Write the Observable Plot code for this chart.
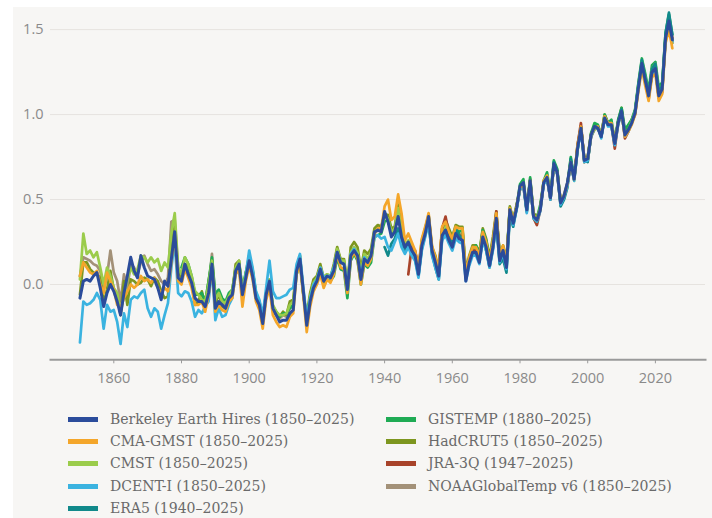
<!DOCTYPE html>
<html><head><meta charset="utf-8">
<script src="https://cdn.jsdelivr.net/npm/d3@7"></script>
<script src="https://cdn.jsdelivr.net/npm/@observablehq/plot@0.6"></script>
<style>
html,body{margin:0;padding:0;background:#ffffff;}
body{width:712px;height:518px;overflow:hidden;position:relative;}
#panel{position:absolute;left:13px;top:7px;width:699px;height:511px;background:#f7f6f4;}
#chart{position:absolute;left:0;top:0;}
#chart svg{overflow:visible;}
.item{position:absolute;height:20px;display:flex;align-items:center;font-family:"DejaVu Serif Condensed","DejaVu Serif",serif;font-size:15.6px;color:#6a6a6a;white-space:nowrap;}
.sw{display:inline-block;width:30px;height:5px;margin-right:12px;}
</style></head>
<body>
<div id="panel"><div id="chart"></div></div>
<script>
// ---- series (annual anomalies, °C) ----
const names = ["Berkeley Earth Hires (1850–2025)","CMA-GMST (1850–2025)","CMST (1850–2025)","DCENT-I (1850–2025)","ERA5 (1940–2025)","GISTEMP (1880–2025)","HadCRUT5 (1850–2025)","JRA-3Q (1947–2025)","NOAAGlobalTemp v6 (1850–2025)"];
const colors = ["#2b4c9b","#f4a62a","#9bcc4b","#3bb3e0","#11898a","#1fab54","#7d961f","#a8432a","#a39178"];
const startYears = [1850,1850,1850,1850,1940,1880,1850,1947,1850];
const xTicks = [1860,1880,1900,1920,1940,1960,1980,2000,2020];
const yTicks = [0,0.5,1.0,1.5];

const berkeley = [
-0.08,0.02,0.03,0.02,0.05,0.07,-0.02,-0.13,-0.05,0.00,
-0.04,-0.10,-0.18,-0.05,0.05,0.16,0.08,0.04,0.17,0.10,
0.05,0.04,0.03,-0.02,-0.09,0.02,-0.01,0.15,0.31,0.04,
0.02,0.12,0.06,0.01,-0.08,-0.10,-0.10,-0.13,-0.05,0.12,
-0.14,-0.10,-0.12,-0.14,-0.08,-0.06,0.08,0.12,-0.06,0.04,
0.14,0.05,-0.08,-0.12,-0.23,-0.06,0.02,-0.14,-0.18,-0.22,
-0.21,-0.21,-0.17,-0.15,0.08,0.15,-0.04,-0.24,-0.10,-0.02,
0.02,0.09,0.02,0.05,0.04,0.08,0.19,0.13,0.12,-0.03,
0.17,0.20,0.17,0.03,0.15,0.13,0.17,0.31,0.32,0.31,
0.43,0.37,0.28,0.31,0.40,0.28,0.22,0.25,0.20,0.17,
0.06,0.23,0.30,0.40,0.20,0.13,0.05,0.29,0.32,0.26,
0.22,0.30,0.27,0.26,0.02,0.13,0.19,0.19,0.13,0.28,
0.22,0.11,0.22,0.39,0.14,0.20,0.10,0.44,0.36,0.45,
0.58,0.60,0.44,0.61,0.40,0.38,0.44,0.60,0.63,0.51,
0.71,0.66,0.48,0.52,0.60,0.72,0.62,0.80,0.92,0.73,
0.74,0.88,0.93,0.92,0.87,0.98,0.94,0.94,0.83,0.95,
1.02,0.88,0.91,0.95,1.01,1.16,1.30,1.20,1.11,1.25,
1.27,1.11,1.15,1.45,1.55,1.44];

const cmaGmst = [
0.05,0.13,0.10,0.07,0.06,0.08,0.00,-0.05,0.07,0.02,
-0.03,-0.12,-0.14,-0.08,-0.04,0.00,-0.02,0.00,0.05,0.02,
0.03,0.01,0.04,-0.02,-0.05,-0.02,-0.04,0.13,0.30,0.02,
0.00,0.09,0.04,-0.02,-0.12,-0.12,-0.10,-0.16,-0.06,0.10,
-0.16,-0.12,-0.15,-0.16,-0.10,-0.08,0.06,0.09,-0.13,0.02,
0.11,0.03,-0.10,-0.15,-0.26,-0.09,-0.02,-0.18,-0.22,-0.25,
-0.24,-0.25,-0.19,-0.17,0.06,0.12,-0.07,-0.28,-0.13,-0.04,
0.00,0.06,-0.02,0.03,0.01,0.06,0.18,0.10,0.09,-0.05,
0.15,0.19,0.15,0.00,0.13,0.11,0.15,0.30,0.33,0.33,
0.46,0.50,0.38,0.40,0.53,0.42,0.26,0.30,0.25,0.20,
0.10,0.27,0.34,0.42,0.23,0.16,0.09,0.34,0.37,0.31,
0.27,0.34,0.33,0.33,0.07,0.16,0.22,0.22,0.17,0.31,
0.25,0.14,0.26,0.42,0.17,0.23,0.13,0.45,0.38,0.46,
0.57,0.59,0.46,0.61,0.41,0.38,0.44,0.61,0.64,0.51,
0.70,0.66,0.49,0.52,0.59,0.72,0.62,0.82,0.93,0.74,
0.74,0.88,0.92,0.93,0.88,0.99,0.95,0.95,0.84,0.95,
1.01,0.87,0.90,0.94,1.00,1.14,1.27,1.17,1.08,1.22,
1.24,1.08,1.12,1.42,1.50,1.39];

const cmst = [
0.03,0.30,0.18,0.20,0.16,0.19,0.10,0.00,0.10,0.05,
-0.02,-0.05,-0.17,-0.06,0.03,0.10,0.06,0.09,0.17,0.16,
0.13,0.16,0.13,0.15,0.08,0.13,0.10,0.30,0.42,0.10,
0.06,0.16,0.12,0.05,-0.04,-0.06,-0.09,-0.10,0.00,0.14,
-0.09,-0.05,-0.10,-0.11,-0.07,-0.03,0.10,0.14,-0.03,0.06,
0.15,0.08,-0.05,-0.11,-0.20,-0.05,0.03,-0.12,-0.16,-0.18,
-0.18,-0.17,-0.12,-0.10,0.10,0.16,-0.04,-0.21,-0.07,0.01,
0.04,0.10,0.04,0.06,0.05,0.10,0.21,0.14,0.14,0.00,
0.19,0.22,0.19,0.06,0.18,0.15,0.19,0.31,0.33,0.32,
0.40,0.39,0.31,0.33,0.45,0.33,0.23,0.26,0.22,0.19,
0.08,0.24,0.31,0.39,0.21,0.14,0.08,0.30,0.34,0.28,
0.24,0.31,0.29,0.28,0.05,0.14,0.20,0.21,0.15,0.30,
0.24,0.13,0.23,0.40,0.16,0.21,0.12,0.45,0.37,0.45,
0.57,0.60,0.44,0.60,0.40,0.39,0.45,0.61,0.64,0.53,
0.71,0.66,0.48,0.51,0.59,0.72,0.61,0.80,0.92,0.72,
0.73,0.87,0.91,0.92,0.87,0.99,0.94,0.95,0.84,0.95,
1.02,0.88,0.91,0.96,1.02,1.18,1.31,1.22,1.12,1.27,
1.30,1.13,1.17,1.46,1.56,1.44];

const dcent = [
-0.34,-0.10,-0.12,-0.11,-0.09,-0.05,-0.09,-0.26,-0.12,-0.16,
-0.15,-0.22,-0.35,-0.17,-0.25,-0.09,-0.07,-0.08,-0.05,-0.03,
-0.14,-0.19,-0.14,-0.16,-0.26,-0.18,-0.11,0.10,0.25,-0.05,
-0.07,-0.04,-0.05,-0.10,-0.19,-0.15,-0.17,-0.13,-0.10,0.10,
-0.21,-0.14,-0.19,-0.18,-0.12,-0.08,0.06,0.10,-0.08,0.06,
0.20,0.10,-0.04,-0.09,-0.18,-0.02,0.14,-0.04,-0.08,-0.08,
-0.07,-0.06,-0.03,-0.02,0.12,0.18,-0.02,-0.20,-0.08,0.00,
0.03,0.10,0.04,0.05,0.05,0.10,0.19,0.13,0.12,-0.02,
0.18,0.21,0.17,0.04,0.16,0.13,0.16,0.28,0.29,0.27,
0.28,0.22,0.20,0.25,0.30,0.22,0.18,0.22,0.17,0.14,
0.04,0.20,0.28,0.37,0.17,0.10,0.03,0.26,0.29,0.24,
0.20,0.27,0.25,0.24,0.02,0.11,0.17,0.17,0.12,0.26,
0.20,0.10,0.20,0.37,0.13,0.18,0.09,0.42,0.35,0.44,
0.56,0.58,0.42,0.60,0.39,0.37,0.43,0.59,0.62,0.50,
0.69,0.65,0.47,0.51,0.58,0.71,0.61,0.79,0.91,0.72,
0.73,0.87,0.92,0.92,0.86,0.98,0.93,0.93,0.82,0.94,
1.01,0.87,0.90,0.95,1.01,1.16,1.29,1.19,1.10,1.24,
1.26,1.10,1.14,1.44,1.54,1.43];

const era5 = [
0.22,0.17,0.24,0.27,0.33,0.24,0.20,0.23,0.19,0.15,
0.05,0.21,0.29,0.36,0.18,0.10,0.03,0.28,0.32,0.27,
0.24,0.33,0.29,0.27,0.04,0.13,0.19,0.18,0.14,0.27,
0.20,0.10,0.21,0.35,0.12,0.15,0.07,0.40,0.34,0.45,
0.56,0.60,0.43,0.61,0.39,0.37,0.45,0.59,0.63,0.50,
0.72,0.67,0.46,0.50,0.57,0.74,0.63,0.80,0.92,0.73,
0.72,0.88,0.92,0.93,0.87,0.98,0.94,0.94,0.83,0.96,
1.03,0.88,0.91,0.95,1.02,1.18,1.32,1.22,1.12,1.27,
1.30,1.13,1.17,1.48,1.60,1.47];

const gistemp = [
0.10,0.16,0.12,0.05,-0.06,-0.06,-0.05,-0.10,0.02,0.16,
-0.06,-0.03,-0.08,-0.10,-0.05,-0.03,0.09,0.13,-0.02,0.07,
0.14,0.08,-0.05,-0.10,-0.20,-0.05,0.02,-0.13,-0.16,-0.19,
-0.17,-0.17,-0.14,-0.12,0.06,0.13,-0.06,-0.20,-0.08,0.00,
0.02,0.07,0.01,0.03,0.02,0.05,0.16,0.09,0.08,-0.08,
0.14,0.18,0.14,0.00,0.12,0.10,0.13,0.28,0.29,0.30,
0.37,0.38,0.30,0.31,0.44,0.31,0.22,0.25,0.22,0.18,
0.08,0.23,0.31,0.39,0.19,0.14,0.06,0.31,0.36,0.31,
0.26,0.33,0.31,0.32,0.07,0.14,0.20,0.23,0.18,0.32,
0.26,0.15,0.26,0.41,0.18,0.21,0.14,0.45,0.38,0.46,
0.59,0.62,0.44,0.63,0.41,0.39,0.47,0.61,0.66,0.53,
0.73,0.68,0.48,0.51,0.59,0.75,0.62,0.79,0.93,0.73,
0.74,0.89,0.95,0.94,0.88,1.00,0.95,0.97,0.84,0.97,
1.04,0.91,0.94,0.97,1.03,1.19,1.33,1.24,1.14,1.29,
1.31,1.16,1.19,1.48,1.59,1.47];

const hadcrut5 = [
-0.06,0.13,0.13,0.09,0.07,0.06,0.04,-0.11,-0.03,0.08,
-0.03,-0.07,-0.18,0.02,-0.12,0.03,0.02,0.00,0.01,0.04,
0.03,-0.01,0.04,0.02,-0.04,-0.08,-0.07,0.25,0.34,0.07,
0.04,0.12,0.10,0.02,-0.12,-0.10,-0.04,-0.12,0.02,0.14,
-0.12,-0.05,-0.13,-0.14,-0.10,-0.05,0.12,0.14,-0.08,0.07,
0.17,0.09,-0.06,-0.13,-0.21,-0.05,0.03,-0.15,-0.18,-0.19,
-0.16,-0.18,-0.10,-0.09,0.09,0.17,-0.06,-0.18,-0.05,0.03,
0.05,0.12,0.04,0.06,0.04,0.12,0.22,0.15,0.15,0.00,
0.22,0.25,0.22,0.09,0.20,0.18,0.21,0.33,0.35,0.34,
0.41,0.41,0.33,0.34,0.47,0.37,0.22,0.25,0.22,0.19,
0.09,0.26,0.33,0.41,0.22,0.17,0.08,0.33,0.38,0.33,
0.28,0.35,0.34,0.34,0.08,0.17,0.23,0.23,0.19,0.33,
0.27,0.16,0.28,0.43,0.18,0.23,0.14,0.46,0.38,0.47,
0.56,0.60,0.43,0.62,0.42,0.40,0.45,0.60,0.64,0.51,
0.70,0.67,0.49,0.52,0.59,0.72,0.63,0.82,0.93,0.74,
0.75,0.89,0.93,0.93,0.88,1.00,0.95,0.95,0.84,0.96,
1.04,0.89,0.93,0.97,1.02,1.17,1.28,1.20,1.11,1.24,
1.27,1.11,1.15,1.45,1.53,1.42];

const jra3q = [
0.06,0.22,0.20,
0.10,0.24,0.31,0.38,0.21,0.14,0.08,0.33,0.40,0.30,
0.25,0.32,0.29,0.28,0.05,0.14,0.20,0.20,0.15,0.30,
0.23,0.12,0.23,0.43,0.15,0.20,0.11,0.44,0.37,0.45,
0.57,0.58,0.43,0.60,0.39,0.35,0.44,0.60,0.62,0.50,
0.70,0.65,0.47,0.51,0.59,0.71,0.62,0.82,0.95,0.72,
0.73,0.87,0.92,0.92,0.87,0.98,0.94,0.94,0.80,0.95,
1.02,0.86,0.90,0.95,1.00,1.16,1.30,1.20,1.09,1.25,
1.27,1.10,1.13,1.45,1.56,1.45];

const noaa = [
0.05,0.16,0.15,0.14,0.12,0.11,0.08,-0.03,0.05,0.20,
0.07,0.02,-0.10,0.06,-0.02,0.12,0.10,0.06,0.13,0.17,
0.12,0.08,0.09,0.06,0.02,0.00,0.04,0.37,0.38,0.10,
0.05,0.10,0.08,0.00,-0.06,-0.06,-0.06,-0.10,-0.02,0.18,
-0.10,-0.06,-0.11,-0.12,-0.08,-0.05,0.10,0.12,-0.05,0.05,
0.13,0.06,-0.07,-0.13,-0.22,-0.07,0.01,-0.15,-0.18,-0.20,
-0.18,-0.19,-0.14,-0.13,0.09,0.15,-0.05,-0.22,-0.08,0.00,
0.03,0.10,0.03,0.05,0.05,0.09,0.21,0.14,0.13,-0.01,
0.19,0.22,0.18,0.05,0.17,0.14,0.18,0.30,0.32,0.32,
0.42,0.40,0.30,0.33,0.45,0.32,0.22,0.24,0.21,0.18,
0.07,0.23,0.32,0.40,0.21,0.14,0.07,0.31,0.35,0.30,
0.25,0.32,0.30,0.29,0.05,0.15,0.21,0.22,0.16,0.31,
0.25,0.14,0.25,0.40,0.17,0.22,0.13,0.44,0.37,0.46,
0.56,0.59,0.45,0.61,0.41,0.39,0.45,0.60,0.63,0.52,
0.70,0.66,0.49,0.53,0.60,0.71,0.62,0.81,0.92,0.74,
0.75,0.88,0.93,0.93,0.88,0.98,0.95,0.95,0.84,0.96,
1.02,0.89,0.92,0.96,1.02,1.17,1.29,1.19,1.11,1.25,
1.27,1.12,1.15,1.45,1.55,1.43];

const seriesValues = [berkeley,cmaGmst,cmst,dcent,era5,gistemp,hadcrut5,jra3q,noaa];
// drawing order (last on top)
const drawOrder = [8,6,5,2,7,4,3,1,0];

const rows = [];
seriesValues.forEach((vals,s)=>{
  vals.forEach((v,i)=>rows.push({name:names[s], year:startYears[s]+i, value:v}));
});

const lineMarks = drawOrder.map(s => Plot.line(rows.filter(r=>r.name===names[s]), {
  x:"year", y:"value", stroke: colors[s], strokeWidth: s===0 ? 3 : 2.7,
  strokeLinejoin:"round", strokeLinecap:"round"
}));

const chart = Plot.plot({
  width: 699, height: 392,
  marginLeft: 37, marginRight: 7, marginTop: 0, marginBottom: 39.7,
  style: {background:"transparent", fontFamily:"'Open Sans', sans-serif", fontSize:"14.5px", color:"#8a8a8a"},
  x: {domain:[1841.3, 2034.8]},
  y: {domain:[-0.443, 1.63]},
  marks: [
    Plot.gridY(yTicks, {stroke:"#e6e3df", strokeOpacity:1, strokeWidth:1}),
    Plot.axisY(yTicks, {tickSize:0, tickPadding:7, tickFormat:d3.format(".1f"), label:null, fill:"#8a8a8a"}),
    Plot.frame({anchor:"bottom", stroke:"#9a9a9a", strokeWidth:2}),
    Plot.axisX(xTicks, {tickSize:4, tickPadding:9, tickFormat:d=>String(d), label:null, stroke:"#9a9a9a", fill:"#8a8a8a"}),
    ...lineMarks
  ]
});
document.getElementById("chart").appendChild(chart);

// legend
const legendOrder = [[0,1,2,3,4],[5,6,7,8]];
const colX = [68, 386];
const rowY = [419, 441, 463, 486, 508];
legendOrder.forEach((col,c)=>col.forEach((s,r)=>{
  const d = document.createElement("div");
  d.className = "item";
  d.style.left = colX[c] + "px";
  d.style.top = (rowY[r] - 10) + "px";
  d.innerHTML = `<span class="sw" style="background:${colors[s]}"></span><span>${names[s]}</span>`;
  document.body.appendChild(d);
}));
</script>
</body></html>
